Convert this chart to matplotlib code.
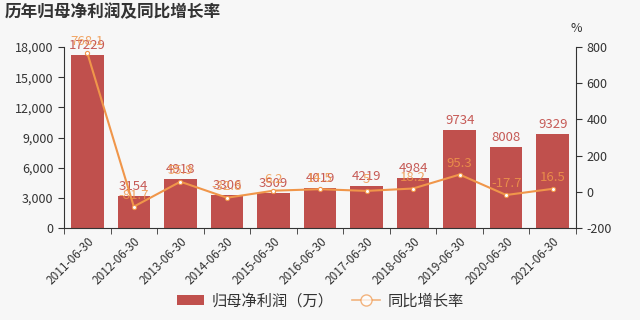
import numpy as np
import matplotlib.pyplot as plt
from matplotlib.ticker import FuncFormatter
from matplotlib.lines import Line2D
from matplotlib.patches import Patch

plt.rcParams['font.family'] = ['Noto Sans CJK SC', 'DejaVu Sans']
plt.rcParams['axes.unicode_minus'] = False

# 数据
periods = ["2011-06-30", "2012-06-30", "2013-06-30", "2014-06-30", "2015-06-30",
           "2016-06-30", "2017-06-30", "2018-06-30", "2019-06-30", "2020-06-30",
           "2021-06-30"]
profit = [17229, 3154, 4918, 3306, 3509, 4019, 4219, 4984, 9734, 8008, 9329]
growth = [768.1, -81.7, 55.9, -32.8, 6.2, 14.5, 5, 18.2, 95.3, -17.7, 16.5]

bar_color = "#c0504d"
line_color = "#f0964a"
bg = "#f7f7f7"
txt = "#333333"

fig = plt.figure(figsize=(6.4, 3.2), dpi=100, facecolor=bg)
ax = fig.add_axes([0.1, 0.2875, 0.8, 0.5655], facecolor=bg)
ax2 = ax.twinx()

x = np.arange(len(periods))
ax.bar(x, profit, width=0.7, color=bar_color, zorder=2)
for xi, v in zip(x, profit):
    ax.text(xi, v + 300, str(v), ha="center", va="bottom", fontsize=9.5,
            color="#c65a56")

ax2.plot(x, growth, color=line_color, lw=1.5, marker="o", ms=3,
         mfc="white", mec=line_color, mew=0.8, zorder=3)
for xi, g in zip(x, growth):
    ax2.text(xi, g + 25, f"{g:g}", ha="center", va="bottom", fontsize=9.5,
             color=line_color, alpha=0.85)

ax.set_xlim(-0.5, len(periods) - 0.5)
ax.set_ylim(0, 18000)
ax.set_yticks(np.arange(0, 18001, 3000))
ax.yaxis.set_major_formatter(FuncFormatter(lambda v, p: f"{int(v):,}"))
ax2.set_ylim(-200, 800)
ax2.set_yticks(np.arange(-200, 801, 200))

ax.set_xticks(x)
ax.set_xticks(np.arange(len(periods) + 1) - 0.5, minor=True)
ax.set_xticklabels(periods, rotation=45, ha="right", rotation_mode="anchor",
                   fontsize=8.5, color=txt)
ax.tick_params(axis="x", which="major", length=0, pad=5)
ax.tick_params(axis="x", which="minor", length=4, color=txt)
ax.tick_params(axis="y", labelsize=9, labelcolor=txt, color=txt, length=4)
ax2.tick_params(axis="y", labelsize=9, labelcolor=txt, color=txt, length=4)

for a in (ax, ax2):
    a.spines["top"].set_visible(False)
    for s in ("left", "right", "bottom"):
        a.spines[s].set_color(txt)
        a.spines[s].set_linewidth(0.8)
ax.spines["right"].set_visible(False)
ax2.spines["left"].set_visible(False)
ax2.spines["bottom"].set_visible(False)

fig.text(0.9, 0.9, "%", fontsize=9, color=txt, ha="center")
fig.text(0.008, 0.962, "历年归母净利润及同比增长率", fontsize=12, fontweight="bold",
         color=txt, va="center")

handles = [Patch(facecolor=bar_color, edgecolor="none"),
           Line2D([], [], color=line_color, lw=1.2, marker="o", ms=8,
                  mfc="white", mec=line_color, mew=1.0, alpha=0.7)]
fig.legend(handles, ["归母净利润（万）", "同比增长率"], loc="center",
           bbox_to_anchor=(0.5, 0.06), ncol=2, frameon=False, fontsize=11,
           handlelength=1.8, handletextpad=0.5, columnspacing=1.2,
           labelcolor=txt)

fig.savefig("out.png", dpi=100, facecolor=bg)
